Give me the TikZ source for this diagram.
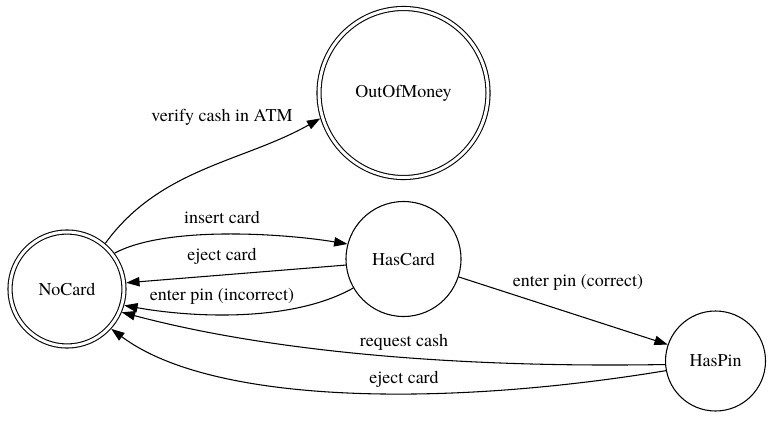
\documentclass[tikz,border=0pt]{standalone}
\usepackage{fontspec}
\setmainfont{texgyretermes-regular.otf}
\usetikzlibrary{positioning}
\usetikzlibrary{arrows.meta}

\begin{document}
\begin{tikzpicture}[x=0.75pt, y=-0.75pt, line width=0.8pt, >={Triangle[length=10pt,width=7pt]}, state/.style={circle, draw, inner sep=0pt, align=center, font=\fontsize{13.5pt}{16pt}\selectfont}, endstate/.style={state, double, double distance=2.25pt, outer sep=1.9pt}, lbl/.style={inner sep=0pt, text height=0.7em, text depth=0.25em, font=\fontsize{13.5pt}{16pt}\selectfont}]
	\useasboundingbox (0,0) rectangle (780,421);
	% nodes
	\node[endstate, minimum size=85.5pt] (NoCard) at (67,289) {NoCard};%
	\node[state, minimum size=86.25pt, on grid, above right=22.5pt and 252.375pt of NoCard] (HasCard) {HasCard};%
	\node[endstate, minimum size=126.75pt, on grid, above=124.5pt of HasCard] (OutOfMoney) {OutOfMoney};%
	\node[state, minimum size=75pt, on grid, below right=76.5pt and 234pt of HasCard] (HasPin) {HasPin};%

	% edges
	\draw [->] (NoCard.50) .. controls (160,168) and (243,162) .. (OutOfMoney.197) node[lbl] at (222,118) {verify cash in ATM};
	\draw [->] (NoCard.37) .. controls (165,226) and (280,233) .. (HasCard.165) node[lbl] at (222,220) {insert card};
	\draw [->] (HasCard.186) -- (NoCard.6) node[lbl] at (222,257) {eject card};
	\draw [->] (HasCard.210) .. controls (293,322) and (195,318) .. (NoCard.344) node[lbl] at (222,297) {enter pin (incorrect)};
	\draw [->] (HasCard.342) -- (HasPin.161) node[lbl] at (578,283) {enter pin (correct)};
	\draw [->] (HasPin.184) .. controls (466,368) and (275,353) .. (NoCard.337) node[lbl] at (404,343) {request cash};
	\draw [->] (HasPin.191) .. controls (446,407) and (213,405) .. (NoCard.318) node[lbl] at (404,380) {eject card};
\end{tikzpicture}
\end{document}
